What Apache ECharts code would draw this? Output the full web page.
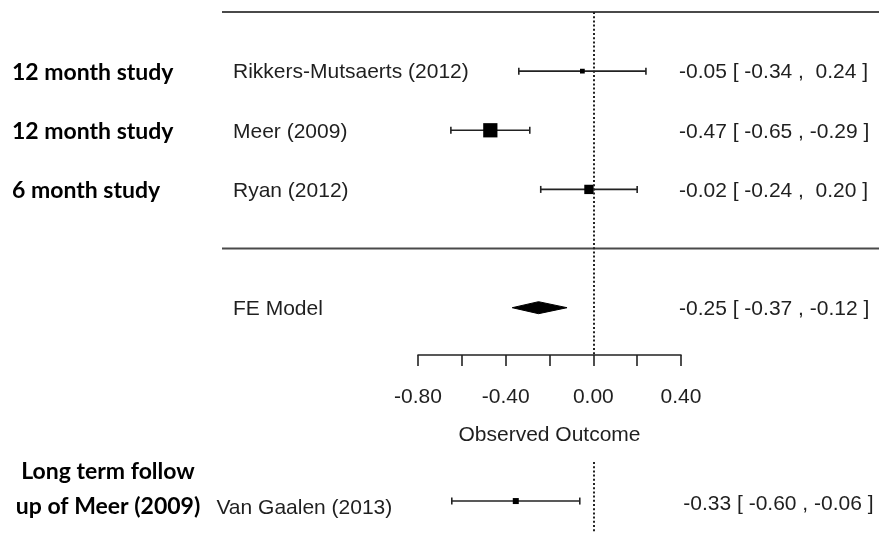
<!DOCTYPE html>
<html>
<head>
<meta charset="utf-8">
<script src="https://cdn.jsdelivr.net/npm/echarts@6/dist/echarts.min.js"></script>
<style>
  html, body { margin: 0; padding: 0; background: #ffffff; }
  #chart { width: 879px; height: 533px; }
</style>
</head>
<body>
<div id="chart"></div>
<script>
// ---------------- data ----------------
const studies = ['Rikkers-Mutsaerts (2012)', 'Meer (2009)', 'Ryan (2012)'];
const groupLabels = ['12 month study', '12 month study', '6 month study'];
const estimates = [-0.05, -0.47, -0.02];
const ciLower = [-0.34, -0.65, -0.24];
const ciUpper = [0.24, -0.29, 0.20];
const weights = [19, 48, 33];

const pooledLabel = 'FE Model';
const pooled = [-0.25, -0.37, -0.12]; // estimate, lower, upper

const followUpStudy = 'Van Gaalen (2013)';
const followUpGroup = ['Long term follow', 'up of Meer (2009)'];
const followUp = [-0.33, -0.60, -0.06]; // estimate, lower, upper

const tickValues = [-0.8, -0.4, 0, 0.4];
const tickLabels = ['-0.80', '-0.40', '0.00', '0.40'];
const axisTitle = 'Observed Outcome';

// ---------------- styling ----------------
const FONT = '"Liberation Sans", Arial, Helvetica, sans-serif';
const BOLD_FONT = 'Lato, "Open Sans", sans-serif';
const TXT = '#1f1f1f';
const LINE = '#222222';
const FS = 21;
const BFS = 23;

function fmt(v) {
  return (v < 0 ? '-' : ' ') + Math.abs(v).toFixed(2);
}
function ciText(e, l, u) {
  return fmt(e).trim() + ' [ ' + fmt(l) + ' , ' + fmt(u) + ' ]';
}

const minW = Math.min.apply(null, weights), maxW = Math.max.apply(null, weights);
function sqSize(w) {
  const n = (w - minW) / (maxW - minW);
  return 9.5 * (0.5 + n);
}

function textEl(text, x, y, opts) {
  opts = opts || {};
  return {
    type: 'text',
    style: {
      text: text, x: x, y: y,
      fill: opts.fill || TXT,
      fontSize: opts.fontSize || FS,
      fontFamily: opts.fontFamily || FONT,
      fontWeight: opts.fontWeight || 'normal',
      align: opts.align || 'left',
      verticalAlign: 'middle'
    }
  };
}

function ciElements(api, est, lo, hi, row, size) {
  const pE = api.coord([est, row]);
  const pL = api.coord([lo, row]);
  const pH = api.coord([hi, row]);
  const y = pE[1];
  const cap = 3.5;
  return [
    { type: 'line', shape: { x1: pL[0], y1: y, x2: pH[0], y2: y }, style: { stroke: LINE, lineWidth: 1.6 } },
    { type: 'line', shape: { x1: pL[0], y1: y - cap, x2: pL[0], y2: y + cap }, style: { stroke: LINE, lineWidth: 1.6 } },
    { type: 'line', shape: { x1: pH[0], y1: y - cap, x2: pH[0], y2: y + cap }, style: { stroke: LINE, lineWidth: 1.6 } },
    { type: 'rect', shape: { x: pE[0] - size / 2, y: y - size / 2, width: size, height: size }, style: { fill: '#000' } }
  ];
}

const mainData = studies.map((s, i) => [estimates[i], ciLower[i], ciUpper[i], i, weights[i]]);

const dottedZero = {
  silent: true,
  symbol: 'none',
  label: { show: false },
  lineStyle: { color: '#222', width: 2, type: [2, 2.2] },
  data: [{ xAxis: 0 }],
  animation: false
};

const option = {
  animation: false,
  backgroundColor: '#ffffff',
  grid: [
    { left: 418, width: 263, top: 12, height: 343 },
    { left: 404.4, width: 284.4, top: 462, height: 71 }
  ],
  xAxis: [
    {
      gridIndex: 0, type: 'value', min: -0.8, max: 0.4, interval: 0.2,
      axisLine: { show: true, onZero: false, lineStyle: { color: LINE, width: 1.6 } },
      axisTick: { show: true, inside: false, length: 11, lineStyle: { color: LINE, width: 1.6 } },
      axisLabel: {
        show: true, margin: 32, fontSize: FS, fontFamily: FONT, color: TXT,
        showMinLabel: true, showMaxLabel: true,
        formatter: function (v) {
          for (let k = 0; k < tickValues.length; k++) {
            if (Math.abs(v - tickValues[k]) < 1e-6) return tickLabels[k];
          }
          return '';
        }
      },
      splitLine: { show: false },
      name: axisTitle, nameLocation: 'middle', nameGap: 70,
      nameTextStyle: { fontSize: FS, fontFamily: FONT, color: TXT }
    },
    {
      gridIndex: 1, type: 'value', min: -0.8, max: 0.4, show: false,
      splitLine: { show: false }
    }
  ],
  yAxis: [
    { gridIndex: 0, type: 'value', min: -1, max: 4.8, inverse: true, show: false, splitLine: { show: false } },
    { gridIndex: 1, type: 'value', min: -0.55, max: 0.45, inverse: true, show: false, splitLine: { show: false } }
  ],
  series: [
    {
      // horizontal rules of the forest plot (top and above the summary)
      type: 'custom', xAxisIndex: 0, yAxisIndex: 0, silent: true, clip: false,
      data: [[0, -1], [0, 3]],
      renderItem: function (params, api) {
        const y = api.coord([0, api.value(1)])[1];
        const cs = params.coordSys;
        return {
          type: 'line',
          shape: { x1: cs.x - 196, y1: y, x2: api.getWidth(), y2: y },
          style: { stroke: '#4a4a4a', lineWidth: 2 }
        };
      }
    },
    {
      type: 'custom', name: 'studies', xAxisIndex: 0, yAxisIndex: 0, silent: true, clip: false,
      data: mainData,
      renderItem: function (params, api) {
        const i = params.dataIndex;
        const est = api.value(0), lo = api.value(1), hi = api.value(2), row = api.value(3), w = api.value(4);
        const cs = params.coordSys;
        const y = api.coord([est, row])[1];
        const children = ciElements(api, est, lo, hi, row, sqSize(w));
        children.push(textEl(studies[i], cs.x - 185, y + 1.5));
        children.push(textEl(ciText(est, lo, hi), cs.x + cs.width - 2, y + 1.5));
        children.push(textEl(groupLabels[i], 12, y + 1, { fontFamily: BOLD_FONT, fontWeight: 'bold', fill: '#000', fontSize: BFS }));
        return { type: 'group', children: children };
      },
      markLine: dottedZero
    },
    {
      type: 'custom', name: 'pooled', xAxisIndex: 0, yAxisIndex: 0, silent: true, clip: false,
      data: [[pooled[0], pooled[1], pooled[2], 4]],
      renderItem: function (params, api) {
        const row = api.value(3);
        const pE = api.coord([api.value(0), row]);
        const pL = api.coord([api.value(1), row]);
        const pH = api.coord([api.value(2), row]);
        const y = pE[1];
        const cs = params.coordSys;
        const h = 6;
        return {
          type: 'group',
          children: [
            { type: 'polygon', shape: { points: [[pL[0], y], [pE[0], y - h], [pH[0], y], [pE[0], y + h]] }, style: { fill: '#000', stroke: '#000', lineWidth: 1, lineJoin: 'round' } },
            textEl(pooledLabel, cs.x - 185, y + 1.5),
            textEl(ciText(api.value(0), api.value(1), api.value(2)), cs.x + cs.width - 2, y + 1.5)
          ]
        };
      }
    },
    {
      type: 'custom', name: 'followup', xAxisIndex: 1, yAxisIndex: 1, silent: true, clip: false,
      data: [[followUp[0], followUp[1], followUp[2], 0]],
      renderItem: function (params, api) {
        const est = api.value(0), lo = api.value(1), hi = api.value(2), row = api.value(3);
        const cs = params.coordSys;
        const y = api.coord([est, row])[1];
        const children = ciElements(api, est, lo, hi, row, 6);
        children.push(textEl(followUpStudy, cs.x - 188, y + 7));
        children.push(textEl(ciText(est, lo, hi), cs.x + cs.width - 5.5, y + 3));
        children.push(textEl(followUpGroup[0], 108, y - 29, { fontFamily: BOLD_FONT, fontWeight: 'bold', fill: '#000', fontSize: BFS, align: 'center' }));
        children.push(textEl(followUpGroup[1], 108, y + 6, { fontFamily: BOLD_FONT, fontWeight: 'bold', fill: '#000', fontSize: BFS, align: 'center' }));
        return { type: 'group', children: children };
      },
      markLine: dottedZero
    }
  ]
};

const chart = echarts.init(document.getElementById('chart'), null, { renderer: 'canvas' });
chart.setOption(option);
</script>
</body>
</html>
